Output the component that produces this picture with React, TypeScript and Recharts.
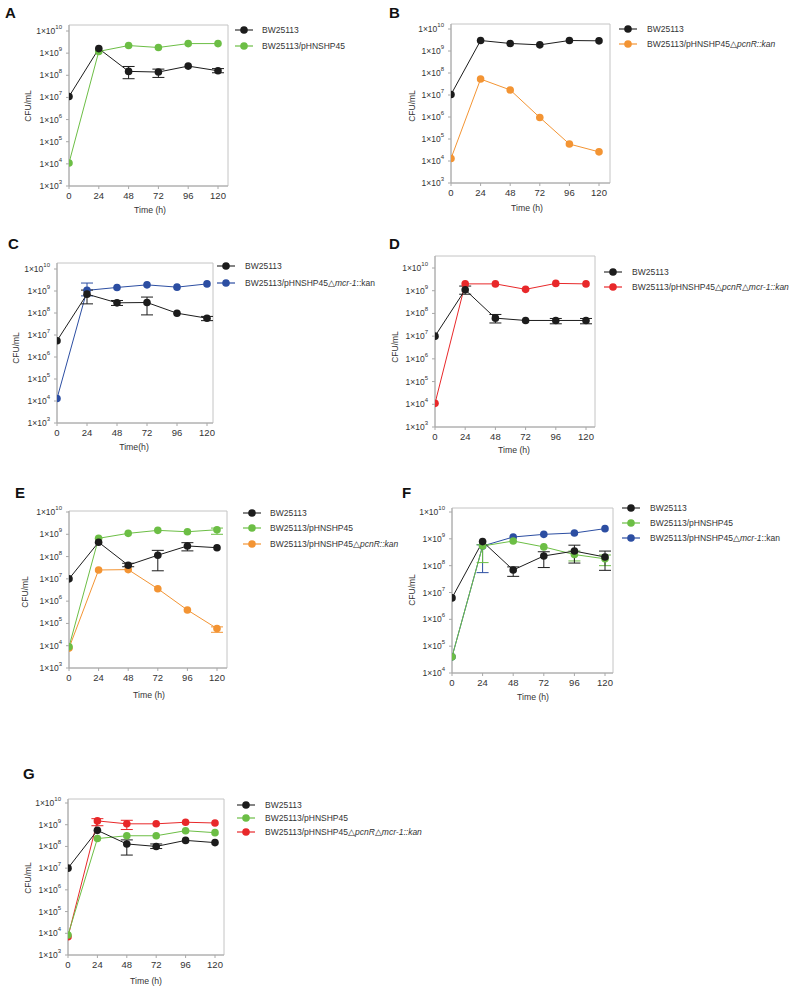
import React from 'react'
import { LineChart, Line, XAxis, YAxis, ErrorBar, ReferenceArea } from 'recharts'

const FONT = '"Liberation Sans", Arial, sans-serif'

const TIMES = [0, 24, 48, 72, 96, 120]
const X_TICKS = [0, 24, 48, 72, 96, 120]
const DEC_3 = [1e3, 1e4, 1e5, 1e6, 1e7, 1e8, 1e9, 1e10]
const DEC_4 = [1e4, 1e5, 1e6, 1e7, 1e8, 1e9, 1e10]

const BLACK = '#1c1c1c'
const GREEN = '#6cbe45'
const ORANGE = '#f39433'
const BLUE = '#2c4ea2'
const RED = '#e8282a'

type Err = [number, number] | null
type Seg = [string, boolean]

// legend names (text, italic)
const N_BW: Seg[] = [['BW25113', false]]
const N_P45: Seg[] = [['BW25113/pHNSHP45', false]]
const N_PCNR: Seg[] = [['BW25113/pHNSHP45△', false], ['pcnR::kan', true]]
const N_MCR: Seg[] = [['BW25113/pHNSHP45△', false], ['mcr-1', true], ['::kan', false]]
const N_BOTH: Seg[] = [['BW25113/pHNSHP45△', false], ['pcnR', true], ['△', false], ['mcr-1::kan', true]]

// A
const A_BW = [1.1e7, 1.6e9, 1.5e8, 1.4e8, 2.6e8, 1.6e8]
const A_BW_ERR: Err[] = [null, null, [7e7, 2.5e8], [8e7, 1.9e8], null, [1.3e8, 2e8]]
const A_P45 = [1.1e4, 1.2e9, 2.2e9, 1.8e9, 2.7e9, 2.7e9]

// B
const B_BW = [1.05e7, 3e9, 2.2e9, 1.9e9, 3e9, 2.9e9]
const B_PCNR = [1.3e4, 5.3e7, 1.7e7, 9.5e5, 5.9e4, 2.6e4]

// C
const C_BW = [5.5e6, 7.2e8, 2.9e8, 3e8, 9.8e7, 5.8e7]
const C_BW_ERR: Err[] = [null, [2.6e8, 1.1e9], [2.2e8, 3.7e8], [8.2e7, 5.3e8], null, [4.5e7, 7e7]]
const C_MCR = [1.3e4, 1.07e9, 1.45e9, 1.9e9, 1.5e9, 2.1e9]
const C_MCR_ERR: Err[] = [null, [6e8, 2.3e9], null, null, null, null]

// D
const D_BW = [1e7, 1.1e9, 6.2e7, 4.9e7, 4.9e7, 4.9e7]
const D_BW_ERR: Err[] = [null, [7e8, 1.6e9], [3.8e7, 9e7], null, [3.5e7, 6e7], [3.5e7, 6e7]]
const D_BOTH = [1.1e4, 2e9, 2e9, 1.15e9, 2.1e9, 2e9]

// E
const E_BW = [1e7, 4.4e8, 4.1e7, 1.15e8, 3e8, 2.5e8]
const E_BW_ERR: Err[] = [null, null, [3.5e7, 5e7], [2.3e7, 1.9e8], [1.8e8, 4.2e8], null]
const E_P45 = [9e3, 6.6e8, 1.1e9, 1.5e9, 1.3e9, 1.6e9]
const E_P45_ERR: Err[] = [null, null, null, null, null, [1e9, 1.9e9]]
const E_PCNR = [7.8e3, 2.5e7, 2.6e7, 3.6e6, 4e5, 5.9e4]
const E_PCNR_ERR: Err[] = [null, null, null, null, null, [4e4, 7e4]]

// F
const F_BW = [6.3e6, 7.9e8, 6.9e7, 2.3e8, 3.5e8, 2.1e8]
const F_BW_ERR: Err[] = [null, null, [4e7, 9e7], [8.5e7, 3.3e8], [1.25e8, 5.8e8], [6.7e7, 3.5e8]]
const F_P45 = [4e4, 5.4e8, 8.3e8, 5e8, 2.6e8, 1.8e8]
const F_P45_ERR: Err[] = [null, [1.3e8, 6e8], null, null, [1.5e8, 3.5e8], [1e8, 2.5e8]]
const F_MCR = [4e4, 5.4e8, 1.17e9, 1.47e9, 1.65e9, 2.4e9]
const F_MCR_ERR: Err[] = [null, [5.5e7, 6e8], null, null, null, null]

// G
const G_BW = [1e7, 5.5e8, 1.3e8, 1e8, 1.9e8, 1.5e8]
const G_BW_ERR: Err[] = [null, null, [4e7, 2e8], [8e7, 1.3e8], null, null]
const G_P45 = [8.4e3, 2.3e8, 3.1e8, 3.1e8, 5.3e8, 4.3e8]
const G_BOTH = [7e3, 1.5e9, 1.1e9, 1.1e9, 1.3e9, 1.2e9]
const G_BOTH_ERR: Err[] = [null, [9e8, 1.9e9], [6e8, 1.6e9], null, null, null]

interface Series {
  name: Seg[]
  values: number[]
  err?: Err[]
  color: string
}

interface PanelCfg {
  letter: string
  letterPos: [number, number]
  x0: number
  x120: number
  right: number
  top: number
  y10: number
  bottom: number
  ticks: number[]
  series: Series[]
  legendX: number
  legendTextX: number
  legendRows: number[]
  yTitle: [number, number]
  xTitle: [number, number]
  xTitleText: string
}

const panels: PanelCfg[] = [
  {
    letter: 'A', letterPos: [5, 5], x0: 69, x120: 218, right: 228, top: 25, y10: 31, bottom: 186, ticks: DEC_3,
    series: [
      { name: N_BW, values: A_BW, err: A_BW_ERR, color: BLACK },
      { name: N_P45, values: A_P45, color: GREEN },
    ],
    legendX: 235, legendTextX: 262, legendRows: [30, 46], yTitle: [28, 106], xTitle: [150, 210], xTitleText: 'Time (h)',
  },
  {
    letter: 'B', letterPos: [389, 5], x0: 451, x120: 599, right: 610, top: 24, y10: 29, bottom: 183, ticks: DEC_3,
    series: [
      { name: N_BW, values: B_BW, color: BLACK },
      { name: N_PCNR, values: B_PCNR, color: ORANGE },
    ],
    legendX: 619, legendTextX: 647, legendRows: [29, 44], yTitle: [412, 106], xTitle: [527, 208], xTitleText: 'Time (h)',
  },
  {
    letter: 'C', letterPos: [8, 236], x0: 57, x120: 207, right: 213, top: 263, y10: 269, bottom: 423, ticks: DEC_3,
    series: [
      { name: N_BW, values: C_BW, err: C_BW_ERR, color: BLACK },
      { name: N_MCR, values: C_MCR, err: C_MCR_ERR, color: BLUE },
    ],
    legendX: 217, legendTextX: 245, legendRows: [266, 283], yTitle: [16, 348], xTitle: [134, 447], xTitleText: 'Time(h)',
  },
  {
    letter: 'D', letterPos: [389, 236], x0: 435, x120: 586, right: 595, top: 256, y10: 268, bottom: 427, ticks: DEC_3,
    series: [
      { name: N_BW, values: D_BW, err: D_BW_ERR, color: BLACK },
      { name: N_BOTH, values: D_BOTH, color: RED },
    ],
    legendX: 604, legendTextX: 632, legendRows: [272, 287], yTitle: [395, 347], xTitle: [514, 450], xTitleText: 'Time (h)',
  },
  {
    letter: 'E', letterPos: [15, 485], x0: 69, x120: 217, right: 227, top: 511, y10: 512, bottom: 668, ticks: DEC_3,
    series: [
      { name: N_BW, values: E_BW, err: E_BW_ERR, color: BLACK },
      { name: N_P45, values: E_P45, err: E_P45_ERR, color: GREEN },
      { name: N_PCNR, values: E_PCNR, err: E_PCNR_ERR, color: ORANGE },
    ],
    legendX: 243, legendTextX: 270, legendRows: [513, 528, 544], yTitle: [25, 592], xTitle: [149, 695], xTitleText: 'Time (h)',
  },
  {
    letter: 'F', letterPos: [402, 485], x0: 452, x120: 605, right: 613, top: 508, y10: 512, bottom: 673, ticks: DEC_4,
    series: [
      { name: N_BW, values: F_BW, err: F_BW_ERR, color: BLACK },
      { name: N_P45, values: F_P45, err: F_P45_ERR, color: GREEN },
      { name: N_MCR, values: F_MCR, err: F_MCR_ERR, color: BLUE },
    ],
    legendX: 622, legendTextX: 650, legendRows: [508, 523, 538], yTitle: [412, 590], xTitle: [533, 697], xTitleText: 'Time (h)',
  },
  {
    letter: 'G', letterPos: [23, 766], x0: 68, x120: 215, right: 224, top: 799, y10: 803, bottom: 955, ticks: DEC_3,
    series: [
      { name: N_BW, values: G_BW, err: G_BW_ERR, color: BLACK },
      { name: N_P45, values: G_P45, color: GREEN },
      { name: N_BOTH, values: G_BOTH, err: G_BOTH_ERR, color: RED },
    ],
    legendX: 237, legendTextX: 265, legendRows: [805, 818, 832], yTitle: [28, 878], xTitle: [146, 981], xTitleText: 'Time (h)',
  },
]

const YTick = (props: any) => {
  const { x, y, payload } = props
  const exp = Math.round(Math.log10(payload.value))
  return (
    <text x={x} y={y} textAnchor="end" dominantBaseline="central" fontSize={8.5} fill="#333" fontFamily={FONT}>
      <tspan>1×10</tspan>
      <tspan dy={-4} fontSize={6}>{exp}</tspan>
    </text>
  )
}

const Y_AXIS_W = 50
const X_AXIS_H = 30
const PAD_TOP = 10
const AXIS_GRAY = '#a8a8a8'

function Panel({ cfg }: { cfg: PanelCfg }) {
  const plotW = cfg.right - cfg.x0
  const plotH = cfg.bottom - cfg.top
  const xMax = ((cfg.right - cfg.x0) / (cfg.x120 - cfg.x0)) * 120
  const yMin = cfg.ticks[0]
  const nDec = cfg.ticks.length - 1
  const decPx = (cfg.bottom - cfg.y10) / nDec
  const yMax = Math.pow(10, 10 + (cfg.y10 - cfg.top) / decPx)

  const rows = TIMES.map((t, i) => {
    const row: any = { t }
    cfg.series.forEach((s, k) => {
      row['s' + k] = s.values[i]
      const e = s.err ? s.err[i] : null
      if (e) row['e' + k] = [s.values[i] - e[0], e[1] - s.values[i]]
    })
    return row
  })

  // later legend entries sit underneath
  const order = cfg.series.map((s, k) => k).reverse()

  return (
    <>
      <div style={{ position: 'absolute', left: cfg.x0 - Y_AXIS_W, top: cfg.top - PAD_TOP }}>
        <LineChart
          width={Y_AXIS_W + plotW + 4}
          height={plotH + X_AXIS_H + PAD_TOP}
          data={rows}
          margin={{ top: PAD_TOP, right: 4, bottom: 0, left: 0 }}
        >
          <ReferenceArea x1={0} x2={xMax} y1={yMin} y2={yMax} fill="none" stroke="#c4c4c4" strokeWidth={1} />
          <XAxis
            dataKey="t"
            type="number"
            domain={[0, xMax]}
            ticks={X_TICKS}
            interval={0}
            allowDataOverflow
            height={X_AXIS_H}
            tickSize={3}
            tickMargin={3}
            stroke={AXIS_GRAY}
            tick={{ fontSize: 9.5, fill: '#333', fontFamily: FONT }}
          />
          <YAxis
            type="number"
            scale="log"
            domain={[yMin, yMax]}
            ticks={cfg.ticks}
            interval={0}
            allowDataOverflow
            width={Y_AXIS_W}
            tickSize={3}
            tickMargin={4}
            stroke={AXIS_GRAY}
            tick={<YTick />}
          />
          {order.map((k) => {
            const s = cfg.series[k]
            return (
              <Line
                key={k}
                type="linear"
                dataKey={'s' + k}
                stroke={s.color}
                strokeWidth={1}
                dot={{ r: 3.8, fill: s.color, stroke: s.color, strokeWidth: 0 }}
                activeDot={false}
                isAnimationActive={false}
              >
                {s.err && <ErrorBar dataKey={'e' + k} width={6} stroke={s.color} strokeWidth={1} direction="y" />}
              </Line>
            )
          })}
        </LineChart>
      </div>

      <div
        style={{
          position: 'absolute', left: cfg.letterPos[0], top: cfg.letterPos[1],
          fontSize: 15, fontWeight: 'bold', lineHeight: 1, fontFamily: FONT, color: '#111',
        }}
      >
        {cfg.letter}
      </div>

      <div
        style={{
          position: 'absolute', left: cfg.yTitle[0], top: cfg.yTitle[1],
          transform: 'translate(-50%, -50%) rotate(-90deg)', fontSize: 8.5, fontFamily: FONT,
          color: '#333', whiteSpace: 'nowrap',
        }}
      >
        CFU/mL
      </div>

      <div
        style={{
          position: 'absolute', left: cfg.xTitle[0], top: cfg.xTitle[1],
          transform: 'translate(-50%, -50%)', fontSize: 8.7, fontFamily: FONT,
          color: '#333', whiteSpace: 'nowrap',
        }}
      >
        {cfg.xTitleText}
      </div>

      {cfg.series.map((s, k) => {
        const y = cfg.legendRows[k]
        return (
          <React.Fragment key={k}>
            <svg
              width={18}
              height={12}
              style={{ position: 'absolute', left: cfg.legendX, top: y - 6 }}
            >
              <line x1={0} y1={6} x2={18} y2={6} stroke={s.color === BLACK ? '#333' : s.color} strokeWidth={1.2} />
              <circle cx={9} cy={6} r={3.8} fill={s.color} />
            </svg>
            <div
              style={{
                position: 'absolute', left: cfg.legendTextX, top: y,
                transform: 'translateY(-50%)', fontSize: 8.5, fontFamily: FONT,
                color: '#333', whiteSpace: 'nowrap',
              }}
            >
              {s.name.map(([txt, it], j) => (it ? <i key={j}>{txt}</i> : <span key={j}>{txt}</span>))}
            </div>
          </React.Fragment>
        )
      })}
    </>
  )
}

export default function App() {
  return (
    <div style={{ position: 'relative', width: 798, height: 988, background: '#fff', overflow: 'hidden' }}>
      <style>{'body{margin:0}'}</style>
      {panels.map((p) => (
        <Panel key={p.letter} cfg={p} />
      ))}
    </div>
  )
}
